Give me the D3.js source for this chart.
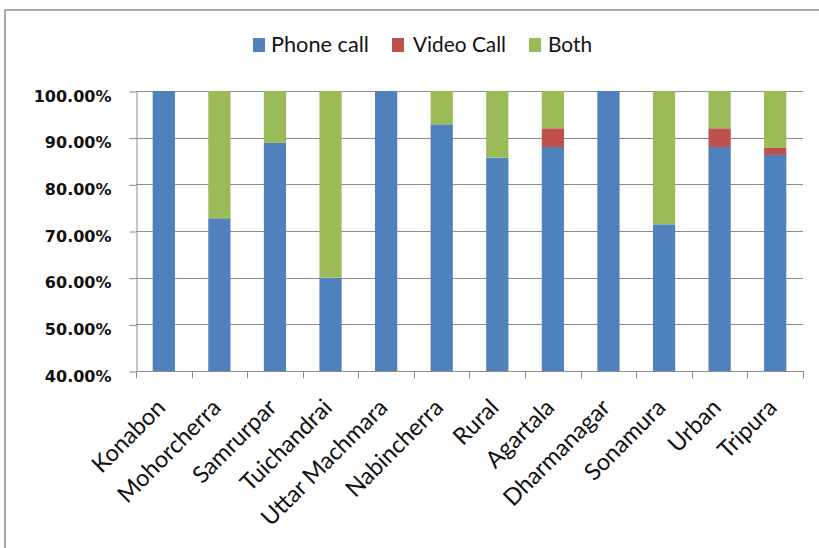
<!DOCTYPE html>
<html>
<head>
<meta charset="utf-8">
<script src="https://cdn.jsdelivr.net/npm/d3@7/dist/d3.min.js"></script>
<style>
  html, body { margin: 0; padding: 0; background: #fff; }
  svg { display: block; }
</style>
</head>
<body>
<svg id="chart" width="819" height="548"></svg>
<script>
const categories = ["Konabon", "Mohorcherra", "Samrurpar", "Tuichandrai", "Uttar Machmara", "Nabincherra", "Rural", "Agartala", "Dharmanagar", "Sonamura", "Urban", "Tripura"];
const seriesNames = ["Phone call", "Video Call", "Both"];
const phoneCall = [100, 72.73, 88.89, 60, 100, 92.86, 85.71, 88, 100, 71.43, 88, 86.3];
const videoCall = [0, 0, 0, 0, 0, 0, 0, 4, 0, 0, 4, 1.5];
const both = [0, 27.27, 11.11, 40, 0, 7.14, 14.29, 8, 0, 28.57, 8, 12.2];
const yTicks = [40, 50, 60, 70, 80, 90, 100];
const colors = ["#4F81BD", "#C0504D", "#9BBB59"];

(function () {
const svg = d3.select("#chart");

// outer frame
svg.append("rect")
  .attr("x", 5).attr("y", 10)
  .attr("width", 830).attr("height", 560)
  .attr("fill", "none").attr("stroke", "#8c8c8c").attr("stroke-width", 1.5);

const pLeft = 136, pRight = 803, pTop = 91, pBottom = 371;

const x = d3.scaleBand().domain(categories).range([pLeft, pRight]).paddingInner(0.6).paddingOuter(0.3);
const y = d3.scaleLinear().domain([40, 100]).range([pBottom, pTop]);

// gridlines
svg.append("g").selectAll("line").data(yTicks.slice(1)).join("line")
  .attr("x1", pLeft).attr("x2", pRight)
  .attr("y1", d => Math.round(y(d)) + 0.5).attr("y2", d => Math.round(y(d)) + 0.5)
  .attr("stroke", "#8c8c8c").attr("stroke-width", 1);

// stacked bars
const rows = categories.map((c, i) => ({ cat: c, "Phone call": phoneCall[i], "Video Call": videoCall[i], "Both": both[i] }));
const stack = d3.stack().keys(seriesNames)(rows);

svg.append("g").selectAll("g").data(stack).join("g")
  .attr("fill", (d, i) => colors[i])
  .selectAll("rect").data(d => d).join("rect")
  .attr("x", d => x(d.data.cat))
  .attr("width", x.bandwidth())
  .attr("y", d => y(Math.min(100, Math.max(40, d[1]))))
  .attr("height", d => {
    const a = Math.max(40, d[0]), b = Math.min(100, d[1]);
    return b > a ? y(a) - y(b) : 0;
  });

// y axis
const yAxis = d3.axisLeft(y).tickValues(yTicks).tickSize(7).tickSizeOuter(0)
  .tickFormat(d => d3.format(".2f")(d) + "%");
const yg = svg.append("g").attr("transform", `translate(${pLeft + 0.5},0.5)`).call(yAxis);
yg.select(".domain").attr("stroke", "#8c8c8c");
yg.selectAll(".tick line").attr("stroke", "#8c8c8c");
yg.selectAll(".tick text")
  .attr("x", -25).attr("dy", "0.6em")
  .attr("fill", "#111")
  .style("font-family", "'DejaVu Sans', Verdana, sans-serif")
  .style("font-weight", "bold")
  .style("font-size", "16px");

// x axis
const xg = svg.append("g").attr("transform", `translate(0,${pBottom + 0.5})`);
xg.append("line").attr("x1", pLeft).attr("x2", pRight + 1).attr("y1", 0).attr("y2", 0).attr("stroke", "#8c8c8c");
const boundaries = categories.map(c => x(c) - x.step() * x.paddingInner() / 2).concat([pRight]);
xg.selectAll("line.tk").data(boundaries).join("line").attr("class", "tk")
  .attr("x1", d => Math.round(d) + 0.5).attr("x2", d => Math.round(d) + 0.5)
  .attr("y1", 0).attr("y2", 7).attr("stroke", "#8c8c8c");

svg.append("g").selectAll("text").data(categories).join("text")
  .attr("transform", d => `translate(${x(d) + x.bandwidth() / 2 + 3},409) rotate(-45)`)
  .attr("text-anchor", "end")
  .attr("fill", "#111")
  .style("font-family", "Lato, 'Open Sans', sans-serif")
  .style("font-size", "23.5px")
  .text(d => d);

// legend
const legendItems = [
  { name: seriesNames[0], rx: 253, tx: 271, tw: 98 },
  { name: seriesNames[1], rx: 392, tx: 413, tw: 93 },
  { name: seriesNames[2], rx: 529, tx: 548, tw: 44 }
];
const lg = svg.append("g");
lg.selectAll("rect").data(legendItems).join("rect")
  .attr("x", d => d.rx).attr("y", 38).attr("width", 12).attr("height", 14)
  .attr("fill", (d, i) => colors[i]);
lg.selectAll("text").data(legendItems).join("text")
  .attr("x", d => d.tx).attr("y", 52)
  .attr("textLength", d => d.tw).attr("lengthAdjust", "spacingAndGlyphs")
  .attr("fill", "#111")
  .style("font-family", "Lato, sans-serif")
  .style("font-size", "21px")
  .text(d => d.name);
})();
</script>
</body>
</html>
